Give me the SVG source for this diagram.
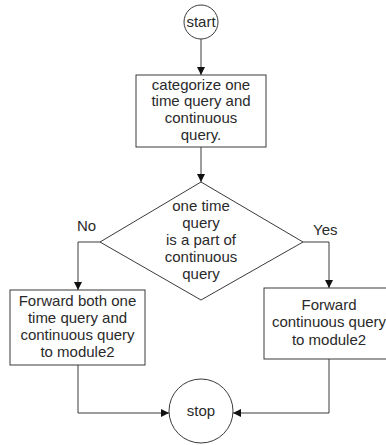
<svg xmlns="http://www.w3.org/2000/svg" width="386" height="445" viewBox="0 0 386 445">
  <style>
    .shape { fill: #ffffff; stroke: #3a3a3a; stroke-width: 1; }
    .edge { fill: none; stroke: #3a3a3a; stroke-width: 1; marker-end: url(#arrow); }
    text { font-family: "Liberation Sans", Arial, sans-serif; font-size: 15px; fill: #2a2a2a; text-anchor: middle; }
    .lbl { text-anchor: start; }
  </style>
  <defs>
    <marker id="arrow" viewBox="0 0 10 10" refX="10" refY="5" markerWidth="9" markerHeight="8" markerUnits="userSpaceOnUse" orient="auto">
      <path d="M0,0 L10,5 L0,10 z" fill="#111111"/>
    </marker>
  </defs>
  <rect width="386" height="445" fill="#ffffff"/>

  <g id="connectors">
    <path class="edge" d="M201,39 L201,75"/>
    <path class="edge" d="M201,147 L201,182"/>
    <path class="edge" d="M100,242 L78,242 L78,290"/>
    <path class="edge" d="M303,242 L329,242 L329,288"/>
    <path class="edge" d="M78,365 L78,413 L169,413"/>
    <path class="edge" d="M329,359 L329,413 L233,413"/>
    <text class="lbl" x="77" y="231">No</text>
    <text class="lbl" x="313" y="235">Yes</text>
  </g>

  <g id="start">
    <circle class="shape" cx="201" cy="22" r="17"/>
    <text x="201" y="27">start</text>
  </g>

  <g id="categorize">
    <rect class="shape" x="136" y="75" width="130" height="72"/>
    <text x="201" y="90">categorize one</text>
    <text x="201" y="106">time query and</text>
    <text x="201" y="123">continuous</text>
    <text x="201" y="140">query.</text>
  </g>

  <g id="decision">
    <polygon class="shape" points="201,182 303,242 201,300 100,242"/>
    <text x="201" y="211">one time</text>
    <text x="201" y="228">query</text>
    <text x="201" y="245">is a part of</text>
    <text x="201" y="262">continuous</text>
    <text x="201" y="279">query</text>
  </g>

  <g id="forward-both">
    <rect class="shape" x="10" y="290" width="135" height="75"/>
    <text x="77.5" y="306">Forward both one</text>
    <text x="77.5" y="323">time query and</text>
    <text x="77.5" y="340">continuous query</text>
    <text x="77.5" y="357">to module2</text>
  </g>

  <g id="forward-continuous">
    <rect class="shape" x="264" y="288" width="130" height="71"/>
    <text x="329" y="310">Forward</text>
    <text x="329" y="327">continuous query</text>
    <text x="329" y="345">to module2</text>
  </g>

  <g id="stop">
    <circle class="shape" cx="201" cy="411" r="32"/>
    <text x="201" y="416">stop</text>
  </g>
</svg>
